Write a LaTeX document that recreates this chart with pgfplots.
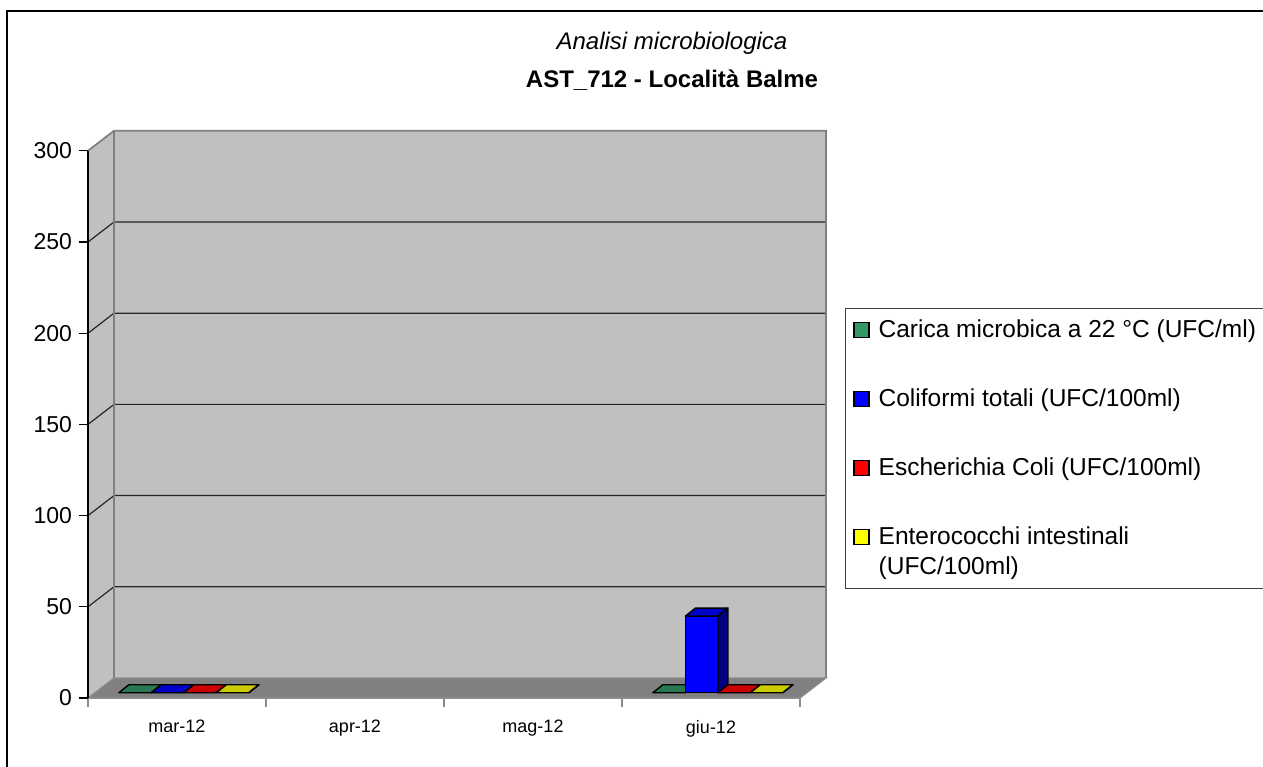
\documentclass[border=0pt]{standalone}
\usepackage{fontspec}
\setmainfont{Liberation Sans}
\usepackage{pgfplots}
\pgfplotsset{compat=1.18}

\definecolor{wall}{HTML}{C0C0C0}
\definecolor{floorc}{HTML}{808080}
\definecolor{cgreen}{HTML}{339966}
\definecolor{cblue}{HTML}{0000FF}
\definecolor{cred}{HTML}{FF0000}
\definecolor{cyellow}{HTML}{FFFF00}

\pgfdeclareplotmark{nomark}{}

% 3-D looking bar: front face, top face and right side, drawn at each data point
\pgfplotsset{
  bar3d/.style 2 args={
    forget plot, only marks, scatter, mark=nomark,
    visualization depends on={rawy \as \hval},
    scatter/@pre marker code/.code={%
      \pgfmathsetmacro\B{2.65-\hval*0.912}%
      \pgfmathsetmacro\Bb{\B+4}%
      \pgfmathsetmacro\L{#1-8.125+3.45}%
      \pgfmathsetmacro\R{#1+8.125+3.45}%
      \pgfmathsetmacro\Lb{\L+5}%
      \pgfmathsetmacro\Rb{\R+5}%
      \filldraw[fill=#2, draw=black, line width=0.7pt, line join=round]
        (\L pt,\B pt) rectangle (\R pt,2.65pt);
      \filldraw[fill=#2!80!black, draw=black, line width=0.7pt, line join=round]
        (\L pt,2.65pt) -- (\R pt,2.65pt) -- (\Rb pt,6.65pt) -- (\Lb pt,6.65pt) -- cycle;
      \filldraw[fill=#2!50!black, draw=black, line width=0.7pt, line join=round]
        (\R pt,2.65pt) -- (\Rb pt,6.65pt) -- (\Rb pt,\Bb pt) -- (\R pt,\B pt) -- cycle;
    },
    scatter/@post marker code/.code={},
  },
}

\begin{document}
\begin{tikzpicture}
\begin{axis}[
  at={(0,0)}, anchor=origin,
  x=89pt, y=0.912pt,
  xmin=0, xmax=4, ymin=0, ymax=300,
  axis lines*=left,
  axis on top,
  clip=false,
  xtick={0,1,2,3,4},
  xticklabels={mar-12,apr-12,mag-12,giu-12},
  x tick label as interval,
  ytick={0,50,...,300},
  tick align=outside,
  major tick length=4.5pt,
  x axis line style={draw=black!45, line width=0.8pt},
  y axis line style={draw=black, line width=0.6pt},
  xtick style={draw=black!45, line width=0.8pt},
  ytick style={draw=black, line width=0.6pt},
  /pgf/number format/assume math mode=true,
  yticklabel style={font=\fontsize{11.5}{13}\selectfont},
  xticklabel style={font=\fontsize{9}{11}\selectfont, yshift=-3pt},
  legend image code/.code={\draw[#1, draw=black, line width=0.6pt] (0pt,0pt) rectangle (7.5pt,7.5pt);},
  legend style={
    at={(1.063,0.7126)}, anchor=north west,
    draw=black!75, line width=0.6pt,
    font=\fontsize{12.25}{15}\selectfont,
    inner xsep=4pt, inner ysep=5.5pt,
    row sep=24.2pt, column sep=4.5pt,
    cells={anchor=base west},
    nodes={inner sep=0pt},
  },
]
% walls and floor
\fill[wall] (axis cs:0,0) -- ([shift={(13pt,10pt)}]axis cs:0,0) -- ([shift={(13pt,10pt)}]axis cs:0,300) -- (axis cs:0,300) -- cycle;
\fill[wall] ([shift={(13pt,10pt)}]axis cs:0,0) rectangle ([shift={(13pt,10pt)}]axis cs:4,300);
\pgfplotsinvokeforeach{50,100,150,200,250}{
  \draw[black!85, line width=0.6pt] (axis cs:0,#1) -- ([shift={(13pt,10pt)}]axis cs:0,#1) -- ([shift={(13pt,10pt)}]axis cs:4,#1);
}
\draw[floorc, line width=0.9pt] (axis cs:0,300) -- ([shift={(13pt,10pt)}]axis cs:0,300) -- ([shift={(13pt,10pt)}]axis cs:4,300) -- ([shift={(13pt,10pt)}]axis cs:4,0);
\draw[floorc, line width=0.9pt] ([shift={(13pt,10pt)}]axis cs:0,0) -- ([shift={(13pt,10pt)}]axis cs:0,300);
\filldraw[fill=floorc, draw=black!45, line width=0.6pt] (axis cs:0,0) -- (axis cs:4,0) -- ([shift={(13pt,10pt)}]axis cs:4,0) -- ([shift={(13pt,10pt)}]axis cs:0,0) -- cycle;

% bars: mar-12 and giu-12
\addplot[bar3d={-24.375}{cgreen}] coordinates {(0.5,0) (3.5,0)};
\addplot[bar3d={-8.125}{cblue}] coordinates {(0.5,0) (3.5,42)};
\addplot[bar3d={8.125}{cred}] coordinates {(0.5,0) (3.5,0)};
\addplot[bar3d={24.375}{cyellow}] coordinates {(0.5,0) (3.5,0)};

\addlegendimage{fill=cgreen}
\addlegendentry{Carica microbica a 22 °C (UFC/ml)}
\addlegendimage{fill=cblue}
\addlegendentry{Coliformi totali (UFC/100ml)}
\addlegendimage{fill=cred}
\addlegendentry{Escherichia Coli (UFC/100ml)}
\addlegendimage{fill=cyellow, yshift=15pt}
\addlegendentry{\vbox{\hbox{Enterococchi intestinali}\hbox{(UFC/100ml)}}}
\end{axis}
\node[anchor=base, font=\fontsize{12}{14}\selectfont\itshape] at (292pt,324pt) {Analisi microbiologica};
\node[anchor=base, font=\fontsize{12}{14}\selectfont\bfseries] at (292pt,305pt) {AST\_712 - Località Balme};
\draw[line width=1pt] (-40.5pt,-45pt) -- (-40.5pt,343.5pt) -- (600pt,343.5pt);
\pgfresetboundingbox
\path (-44pt,-34pt) rectangle (587.5pt,349pt);
\end{tikzpicture}
\end{document}
